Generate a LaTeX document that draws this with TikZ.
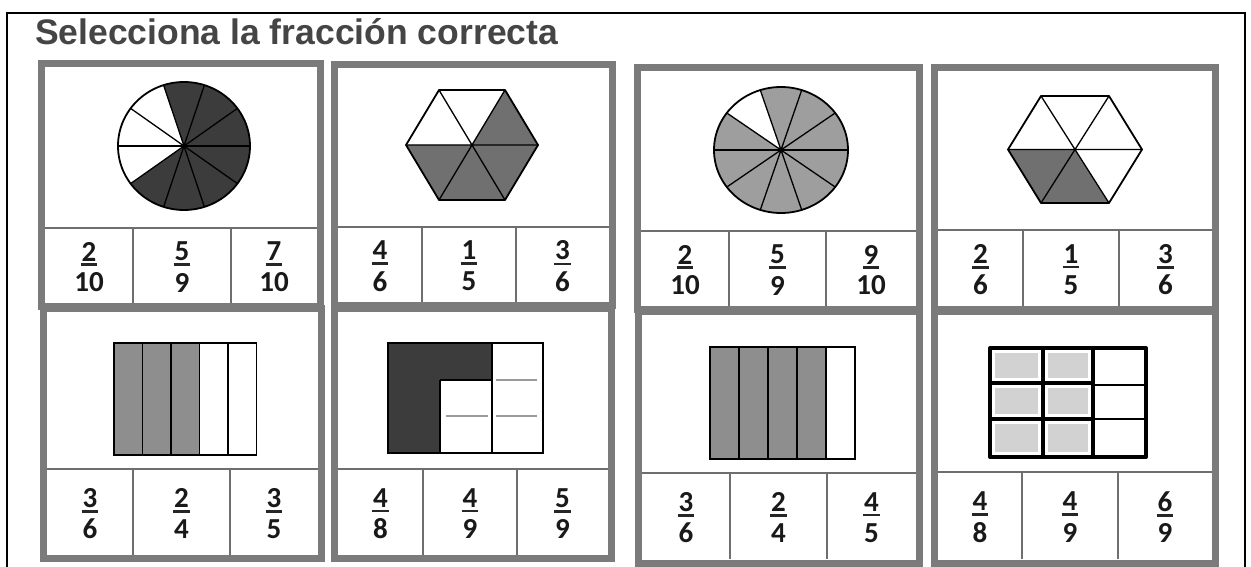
\documentclass[tikz,border=0pt]{standalone}
\usepackage{fontspec}
\newfontfamily\titlefam{Liberation Sans}
\newfontfamily\fracfam{Carlito}
\definecolor{framegray}{HTML}{7B7B7B}
\definecolor{linegray}{HTML}{6E6E6E}
\definecolor{titlegray}{HTML}{454545}
\definecolor{darkfill}{HTML}{3C3C3C}
\definecolor{hexfill}{HTML}{707070}
\definecolor{stripfill}{HTML}{8E8E8E}
\definecolor{lightsect}{HTML}{9E9E9E}
\definecolor{cellfill}{HTML}{D2D2D2}
\definecolor{softline}{HTML}{9A9A9A}
\newcommand\fracat[5]{%
  \node[numtxt] (#1n) at (#2,#3-14) {#4};
  \node[numtxt] (#1d) at (#2,#3+17) {#5};
  \draw[fracbar] ([xshift=-0.8pt,yshift=-3.5pt]#1n.south west) -- ([xshift=0.8pt,yshift=-3.5pt]#1n.south east);
}
\begin{document}
\begin{tikzpicture}[x=1pt,y=-1pt,
  cardframe/.style={draw=framegray, line width=7pt},
  rowline/.style={draw=linegray, line width=2pt},
  numtxt/.style={inner sep=0pt, font=\fracfam\bfseries\fontsize{29}{29}\selectfont, text=black!90},
  fracbar/.style={line width=2.6pt, draw=black!85},
  outl/.style={draw=black, line width=1.8pt},
  radial/.style={draw=black, line width=1.3pt},
  thinb/.style={draw=black, line width=1.3pt},
  thickb/.style={draw=black, line width=3.2pt}]
\useasboundingbox (0,0) rectangle (1251,567);
\fill[white] (0,0) rectangle (1251,567);
% outer black border
\draw[line width=2pt] (7,567) -- (7,13) -- (1245,13) -- (1245,567);
% title
\node[anchor=base west, inner sep=0pt, font=\titlefam\bfseries\fontsize{35.5}{36}\selectfont, text=titlegray] (title) at (35,45) {Selecciona la fracción correcta};

% ---------------- card frames ----------------
\draw[cardframe] (41.5,63.5) rectangle (320.5,306.5);
\draw[cardframe] (334.5,64.5) rectangle (612.5,305.5);
\draw[cardframe] (637.5,67.5) rectangle (919.5,309.5);
\draw[cardframe] (934.5,67.5) rectangle (1215.5,309.5);
\draw[cardframe] (43.5,308.5) rectangle (321.5,558.5);
\draw[cardframe] (334.5,308.5) rectangle (611.5,558.5);
\draw[cardframe] (638.5,311.5) rectangle (919.5,563);
\draw[cardframe] (934.5,311.5) rectangle (1215.5,563);

% ---------------- fraction rows ----------------
% card 1
\draw[rowline] (45,228) -- (317,228);
\draw[rowline] (133,228) -- (133,303) (231,228) -- (231,303);
% card 2
\draw[rowline] (338,227) -- (609,227);
\draw[rowline] (422,227) -- (422,302) (516,227) -- (516,302);
% card 3
\draw[rowline] (641,231) -- (916,231);
\draw[rowline] (729,231) -- (729,306) (826,231) -- (826,306);
% card 4
\draw[rowline] (938,230) -- (1212,230);
\draw[rowline] (1023,230) -- (1023,306) (1119,230) -- (1119,306);
% card 5
\draw[rowline] (47,469) -- (318,469);
\draw[rowline] (133,469) -- (133,555) (230,469) -- (230,555);
% card 6
\draw[rowline] (338,469) -- (608,469);
\draw[rowline] (423,469) -- (423,555) (517,469) -- (517,555);
% card 7
\draw[rowline] (642,473) -- (916,473);
\draw[rowline] (730,473) -- (730,559) (827,473) -- (827,559);
% card 8
\draw[rowline] (938,472) -- (1212,472);
\draw[rowline] (1022,472) -- (1022,559) (1118,472) -- (1118,559);

% ---------------- fractions ----------------
\fracat{ca}{89}{265.5}{2}{10}
\fracat{cb}{182}{265.5}{5}{9}
\fracat{cc}{274}{265.5}{7}{10}
\fracat{da}{380}{264.5}{4}{6}
\fracat{db}{469}{264.5}{1}{5}
\fracat{dc}{562.5}{264.5}{3}{6}
\fracat{ea}{685}{268.5}{2}{10}
\fracat{eb}{777.5}{268.5}{5}{9}
\fracat{ec}{871}{268.5}{9}{10}
\fracat{fa}{980.5}{268}{2}{6}
\fracat{fb}{1071}{268}{1}{5}
\fracat{fc}{1165.5}{268}{3}{6}
\fracat{ga}{90}{512}{3}{6}
\fracat{gb}{181.5}{512}{2}{4}
\fracat{gc}{274}{512}{3}{5}
\fracat{ha}{380.5}{512}{4}{8}
\fracat{hb}{470}{512}{4}{9}
\fracat{hc}{562.5}{512}{5}{9}
\fracat{ia}{686}{516}{3}{6}
\fracat{ib}{778.5}{516}{2}{4}
\fracat{ic}{871.5}{516}{4}{5}
\fracat{ja}{980}{515.5}{4}{8}
\fracat{jb}{1070}{515.5}{4}{9}
\fracat{jc}{1165}{515.5}{6}{9}

% ---------------- card 1: circle 7/10 dark ----------------
\begin{scope}[shift={(184,146)}, y=1pt]
  \foreach \a in {216,252,288,324,0,36,72}
    \fill[darkfill] (0,0) -- (\a:66 and 64) arc[start angle=\a, end angle=\a+36, x radius=66, y radius=64] -- cycle;
  \foreach \a in {0,36,...,324}
    \draw[radial] (0,0) -- (\a:66 and 64);
  \draw[outl] (0,0) ellipse [x radius=66, y radius=64];
  \fill (0,0) circle [radius=2.2];
\end{scope}

% ---------------- card 2: hexagon 4/6 ----------------
\begin{scope}[shift={(472,145)}, y=1pt]
  \fill[hexfill] (0,0) -- (66,0) -- (33,55) -- cycle;
  \fill[hexfill] (0,0) -- (-66,0) -- (-33,-55) -- (33,-55) -- (66,0) -- cycle;
  \draw[radial] (-66,0) -- (66,0) (-33,55) -- (33,-55) (33,55) -- (-33,-55);
  \draw[outl, line join=round] (66,0) -- (33,55) -- (-33,55) -- (-66,0) -- (-33,-55) -- (33,-55) -- cycle;
\end{scope}

% ---------------- card 3: circle 9/10 light ----------------
\begin{scope}[shift={(781,150)}, y=1pt]
  \foreach \a in {144,180,216,252,288,324,0,36,72}
    \fill[lightsect] (0,0) -- (\a:67 and 63) arc[start angle=\a, end angle=\a+36, x radius=67, y radius=63] -- cycle;
  \foreach \a in {0,36,...,324}
    \draw[radial] (0,0) -- (\a:67 and 63);
  \draw[outl] (0,0) ellipse [x radius=67, y radius=63];
  \fill (0,0) circle [radius=3];
\end{scope}

% ---------------- card 4: hexagon 2/6 ----------------
\begin{scope}[shift={(1075,149.5)}, y=1pt]
  \fill[hexfill] (0,0) -- (-67,0) -- (-34,-53.5) -- (34,-53.5) -- cycle;
  \draw[radial] (-67,0) -- (67,0) (-34,53.5) -- (34,-53.5) (34,53.5) -- (-34,-53.5);
  \draw[outl, line join=round] (67,0) -- (34,53.5) -- (-34,53.5) -- (-67,0) -- (-34,-53.5) -- (34,-53.5) -- cycle;
\end{scope}

% ---------------- card 5: strips 3/5 ----------------
\fill[stripfill] (114,343) rectangle (199.5,455);
\draw[thinb] (142.5,343) -- (142.5,455) (171,343) -- (171,455) (199.5,343) -- (199.5,455) (228,343) -- (228,455);
\draw[outl] (114,343) rectangle (256.5,455);

% ---------------- card 6: grid 4/9 ----------------
\fill[darkfill] (388,343) -- (492,343) -- (492,380) -- (440,380) -- (440,453) -- (388,453) -- cycle;
\draw[softline, line width=1.5pt] (446,416) -- (488,416) (496,416) -- (537,416) (496,380) -- (537,380);
\draw[thinb] (492,343) -- (492,453) (440,380) -- (440,453) (440,380) -- (492,380);
\draw[outl, line width=2.4pt] (388,343) rectangle (543,453);

% ---------------- card 7: strips 4/5 ----------------
\fill[stripfill] (710,347) rectangle (826,459);
\draw[thinb] (739,347) -- (739,459) (768,347) -- (768,459) (797,347) -- (797,459) (826,347) -- (826,459);
\draw[outl] (710,347) rectangle (855,459);

% ---------------- card 8: grid 6/9 ----------------
\foreach \cx/\cw in {990/1043,1043/1093}
  \foreach \ry/\rh in {348/383,383/419,419/457}
    \fill[cellfill] (\cx+5,\ry+5) rectangle (\cw-5,\rh-5);
\draw[thinb] (1093,385) -- (1146,385) (1093,419) -- (1146,419);
\draw[thickb] (990,383) -- (1093,383) (990,419) -- (1093,419) (1043,348) -- (1043,457) (1093,348) -- (1093,457);
\draw[line width=4pt, line join=round] (990,348) rectangle (1146,457);
\end{tikzpicture}
\end{document}
